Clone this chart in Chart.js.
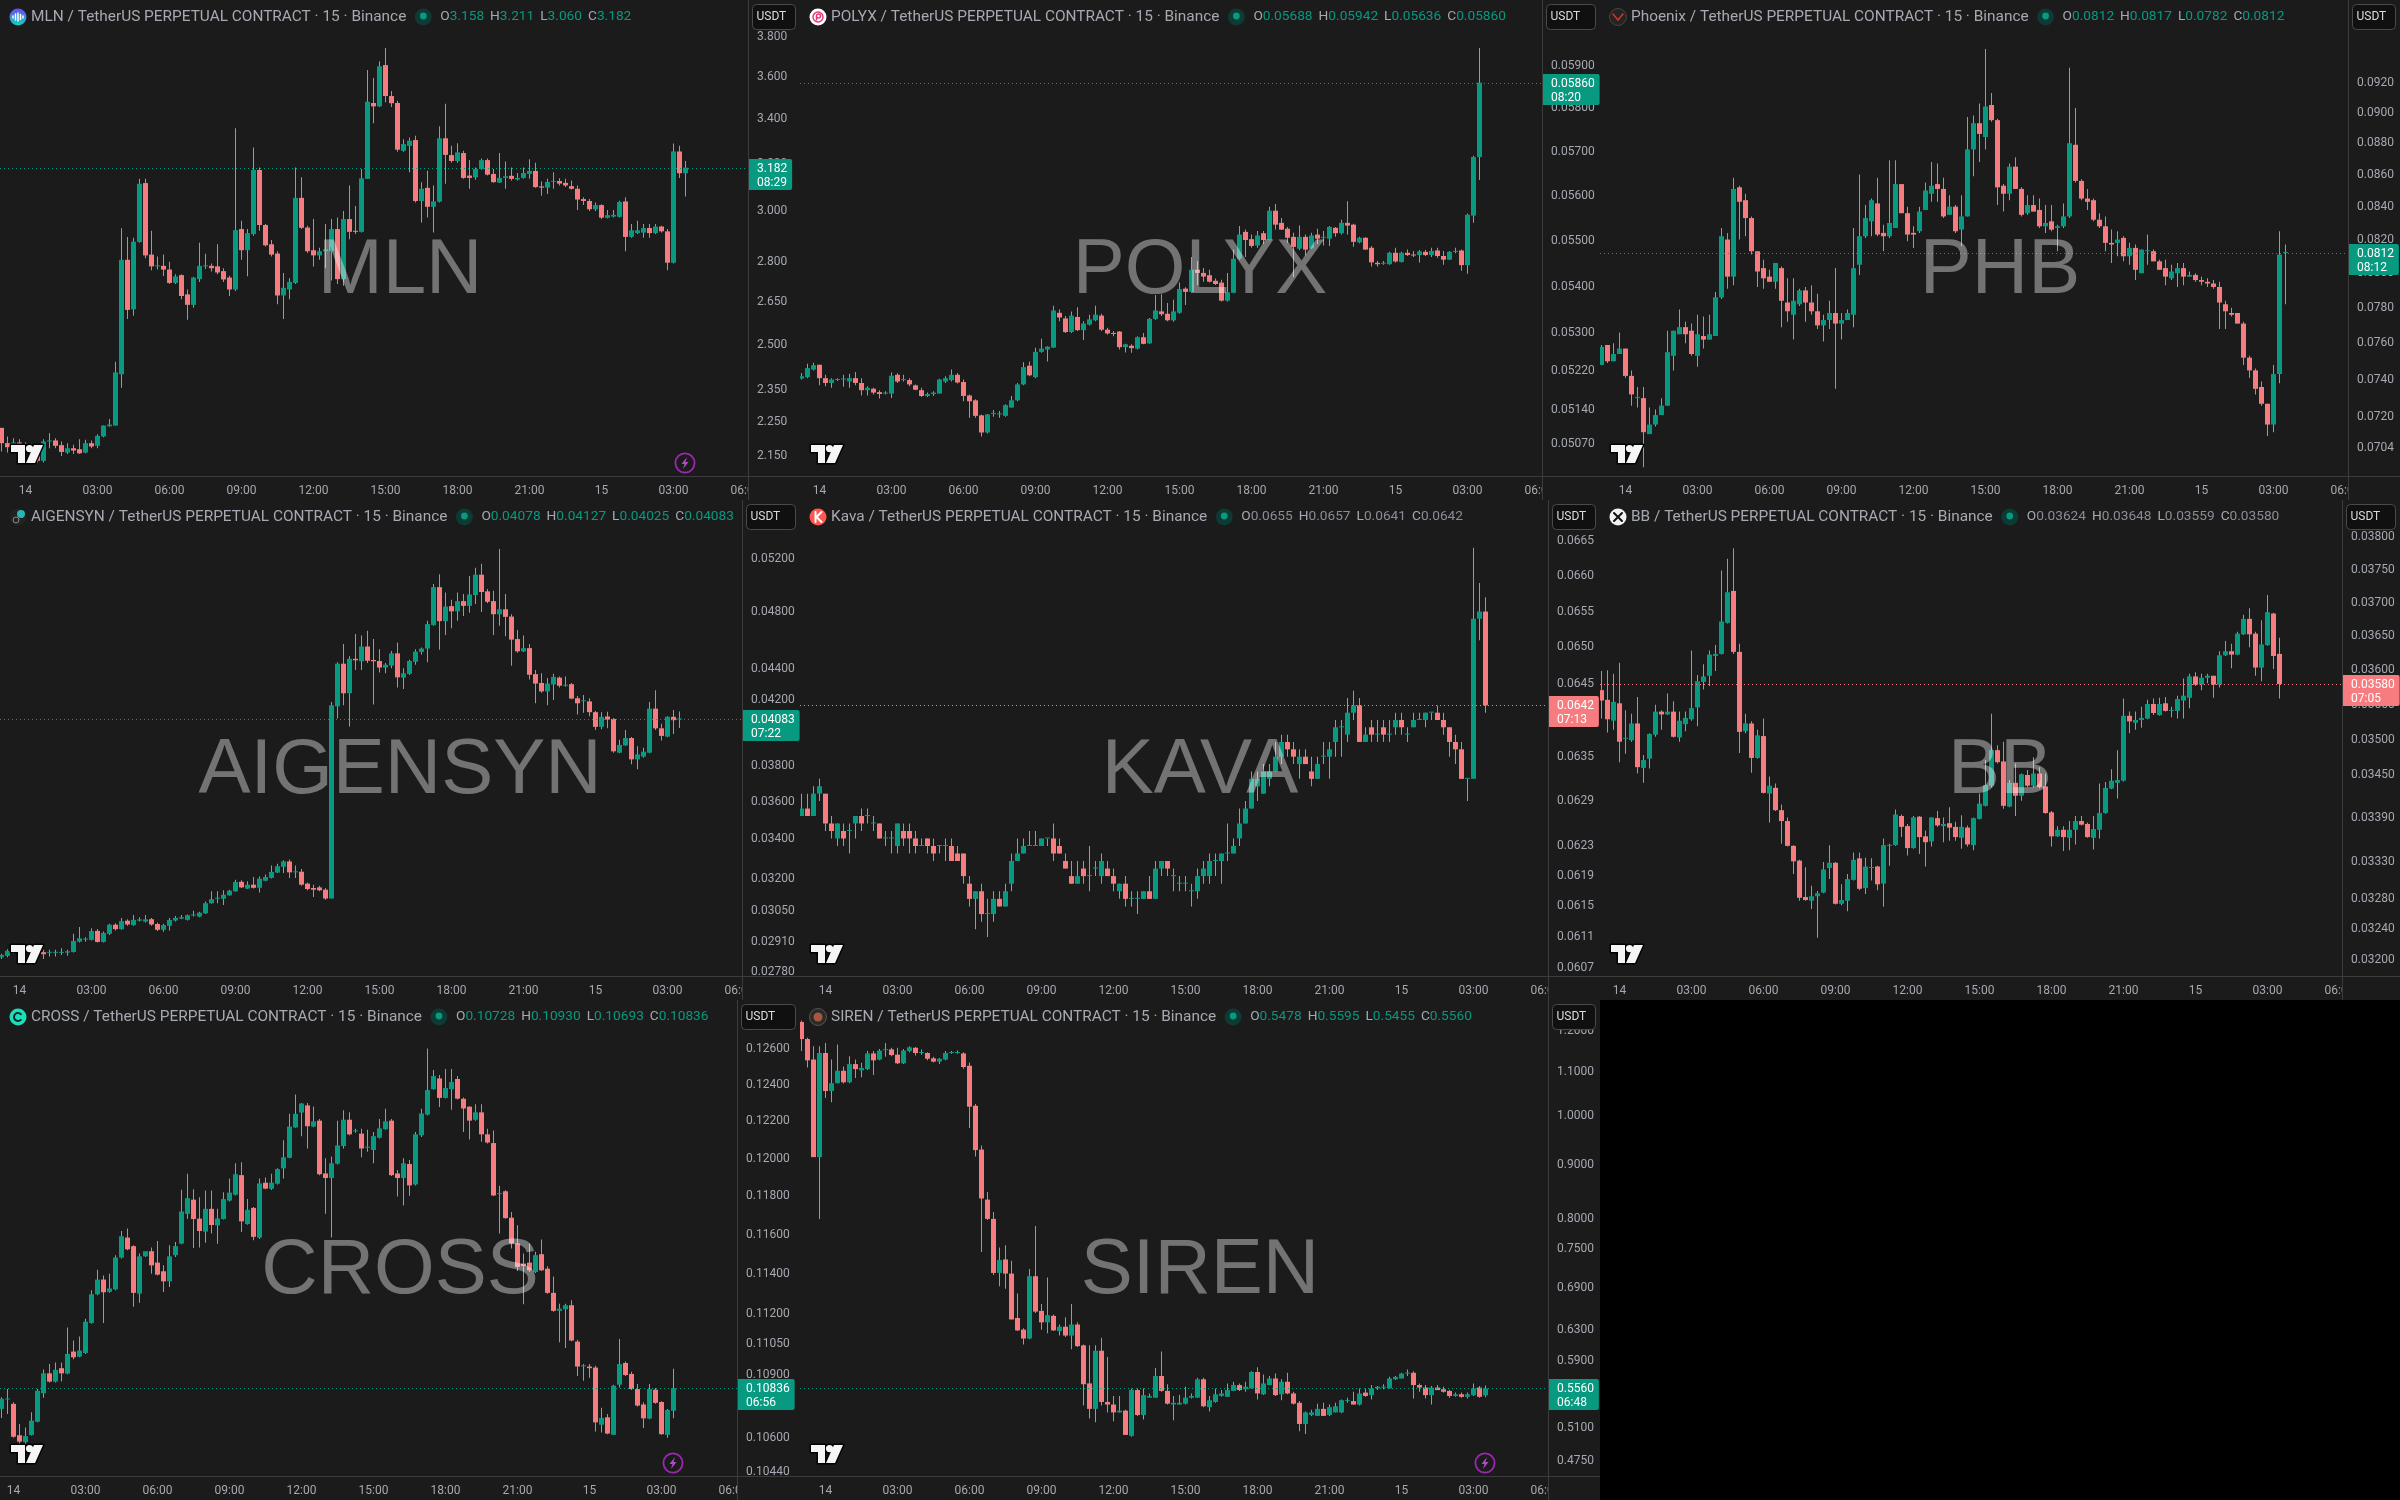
<!DOCTYPE html>
<html><head><meta charset="utf-8">
<style>html,body{margin:0;background:#000;width:2400px;height:1500px;overflow:hidden}canvas{position:absolute;display:block}</style>
<script src="https://cdn.jsdelivr.net/npm/chart.js@4"></script>
</head><body>
<script>
// every row is [open, high, low, close], one 15-minute candle
const timeLabels=['14','03:00','06:00','09:00','12:00','15:00','18:00','21:00','15','03:00','06:00'];
const mlnBars=[[2.233,2.233,2.162,2.187],[2.187,2.207,2.159,2.175],[2.175,2.202,2.172,2.189],[2.189,2.199,2.167,2.18],[2.18,2.19,2.165,2.172],[2.172,2.185,2.16,2.165],[2.165,2.17,2.13,2.135],[2.135,2.199,2.13,2.192],[2.192,2.217,2.172,2.195],[2.195,2.202,2.172,2.179],[2.181,2.192,2.149,2.161],[2.159,2.187,2.155,2.172],[2.172,2.182,2.155,2.165],[2.169,2.199,2.155,2.157],[2.159,2.197,2.157,2.187],[2.187,2.195,2.172,2.177],[2.179,2.214,2.172,2.209],[2.207,2.24,2.205,2.24],[2.238,2.26,2.236,2.243],[2.24,2.443,2.24,2.408],[2.402,2.93,2.358,2.807],[2.807,2.896,2.59,2.622],[2.624,2.893,2.601,2.877],[2.876,3.134,2.873,3.113],[3.116,3.134,2.813,2.824],[2.827,2.92,2.767,2.782],[2.782,2.82,2.77,2.784],[2.784,2.827,2.746,2.77],[2.77,2.8,2.716,2.72],[2.72,2.752,2.716,2.744],[2.749,2.752,2.66,2.672],[2.678,2.696,2.587,2.64],[2.64,2.743,2.63,2.74],[2.734,2.873,2.723,2.784],[2.782,2.83,2.772,2.784],[2.784,2.793,2.763,2.775],[2.782,2.867,2.752,2.759],[2.764,2.775,2.723,2.733],[2.74,2.747,2.672,2.696],[2.696,3.357,2.69,2.923],[2.927,2.96,2.807,2.844],[2.844,2.927,2.745,2.911],[2.907,3.271,2.9,3.172],[3.172,3.183,2.92,2.943],[2.943,2.947,2.858,2.863],[2.867,2.884,2.82,2.827],[2.831,2.84,2.642,2.674],[2.674,2.757,2.59,2.702],[2.696,2.737,2.66,2.724],[2.72,3.183,2.716,3.054],[3.054,3.141,2.927,2.932],[2.933,2.94,2.833,2.84],[2.844,2.967,2.782,2.824],[2.824,2.853,2.807,2.84],[2.84,2.947,2.775,2.847],[2.84,2.967,2.729,2.927],[2.927,2.973,2.716,2.734],[2.734,3.0,2.71,2.967],[2.967,3.106,2.887,2.916],[2.92,3.02,2.907,2.916],[2.916,3.176,2.913,3.136],[3.134,3.635,3.134,3.481],[3.475,3.595,3.38,3.459],[3.459,3.678,3.456,3.653],[3.659,3.745,3.478,3.508],[3.508,3.532,3.456,3.474],[3.475,3.486,3.252,3.261],[3.256,3.308,3.252,3.286],[3.278,3.316,3.162,3.301],[3.304,3.323,3.035,3.041],[3.041,3.12,2.953,3.092],[3.096,3.169,2.973,3.017],[3.017,3.106,2.913,3.039],[3.038,3.367,3.035,3.312],[3.312,3.471,3.113,3.238],[3.237,3.278,3.204,3.211],[3.211,3.29,3.204,3.249],[3.246,3.256,3.134,3.138],[3.148,3.215,3.092,3.138],[3.141,3.183,3.13,3.176],[3.176,3.222,3.173,3.215],[3.215,3.222,3.148,3.152],[3.155,3.176,3.117,3.12],[3.118,3.246,3.116,3.138],[3.138,3.209,3.092,3.145],[3.147,3.183,3.127,3.134],[3.131,3.159,3.127,3.138],[3.138,3.183,3.134,3.159],[3.155,3.219,3.134,3.168],[3.168,3.204,3.096,3.099],[3.102,3.123,3.063,3.097],[3.097,3.134,3.07,3.121],[3.121,3.162,3.092,3.125],[3.125,3.137,3.106,3.114],[3.117,3.134,3.099,3.106],[3.103,3.127,3.089,3.092],[3.092,3.106,3.004,3.047],[3.049,3.056,3.024,3.041],[3.041,3.049,3.0,3.007],[3.007,3.035,3.0,3.024],[3.024,3.028,2.967,2.973],[2.972,3.004,2.969,2.983],[2.977,3.004,2.973,2.984],[2.976,3.042,2.973,3.037],[3.039,3.056,2.84,2.896],[2.896,2.947,2.893,2.922],[2.911,2.96,2.907,2.922],[2.913,2.947,2.893,2.931],[2.931,2.947,2.893,2.911],[2.911,2.947,2.907,2.937],[2.937,2.94,2.913,2.918],[2.918,2.927,2.767,2.796],[2.796,3.289,2.793,3.253],[3.253,3.278,3.138,3.158],[3.158,3.211,3.06,3.182]];
const polyxBars=[[0.05205,0.05217,0.05203,0.0521],[0.05208,0.05236,0.05206,0.05227],[0.05224,0.05238,0.05222,0.05233],[0.05234,0.05234,0.05191,0.05206],[0.05206,0.05213,0.05189,0.05196],[0.05196,0.05206,0.05186,0.05203],[0.05202,0.05206,0.052,0.05203],[0.05203,0.05213,0.05188,0.05205],[0.05199,0.05215,0.05186,0.05206],[0.05206,0.05219,0.05191,0.05196],[0.05196,0.05206,0.0517,0.05181],[0.05181,0.05189,0.0517,0.05186],[0.05184,0.05186,0.05172,0.05176],[0.05177,0.05181,0.05164,0.05173],[0.05174,0.05179,0.05172,0.05176],[0.05174,0.05218,0.05165,0.05211],[0.05213,0.05216,0.05196,0.05199],[0.05202,0.05213,0.05199,0.05204],[0.05202,0.05206,0.05189,0.05193],[0.05191,0.05193,0.05181,0.05182],[0.05181,0.05186,0.05167,0.05169],[0.05169,0.05176,0.05167,0.05173],[0.05173,0.05179,0.05169,0.05176],[0.05174,0.05205,0.05174,0.05203],[0.05199,0.0521,0.05196,0.05206],[0.05202,0.05224,0.05199,0.05213],[0.05213,0.05217,0.05195,0.05197],[0.05198,0.05203,0.05158,0.05169],[0.0517,0.05172,0.05124,0.05158],[0.0516,0.05162,0.05124,0.05128],[0.05129,0.05131,0.05086,0.05094],[0.05094,0.05132,0.05092,0.05131],[0.05132,0.0514,0.05126,0.05132],[0.05131,0.05138,0.05124,0.05131],[0.05128,0.05152,0.05126,0.0515],[0.05145,0.05169,0.05145,0.0516],[0.0516,0.05196,0.05158,0.05193],[0.05193,0.05239,0.05191,0.05229],[0.05232,0.05241,0.0521,0.05212],[0.05208,0.0527,0.05206,0.05261],[0.05261,0.05289,0.05259,0.05268],[0.05266,0.05273,0.05241,0.05272],[0.0527,0.05359,0.0527,0.05349],[0.05344,0.05351,0.05326,0.05334],[0.05332,0.05337,0.05301,0.05303],[0.05303,0.05347,0.05301,0.05338],[0.05335,0.05356,0.05305,0.05307],[0.05307,0.05326,0.05286,0.05321],[0.05319,0.0534,0.05317,0.0533],[0.05328,0.05359,0.05326,0.0534],[0.05338,0.05342,0.05305,0.05308],[0.05308,0.05312,0.05298,0.053],[0.05301,0.05305,0.05294,0.05299],[0.05304,0.05305,0.05266,0.05271],[0.05271,0.05278,0.0526,0.05277],[0.05274,0.05277,0.05259,0.05269],[0.05268,0.05294,0.05266,0.05292],[0.05292,0.05301,0.05277,0.05278],[0.05279,0.05333,0.05278,0.05331],[0.05331,0.05382,0.05329,0.05349],[0.05347,0.05384,0.05337,0.05341],[0.05342,0.05365,0.05326,0.05328],[0.05328,0.05372,0.05325,0.05347],[0.05344,0.05409,0.05342,0.05395],[0.05396,0.05399,0.05361,0.05389],[0.05389,0.05465,0.05387,0.05437],[0.05437,0.05456,0.05404,0.0543],[0.0543,0.05441,0.05411,0.05422],[0.05425,0.05437,0.05409,0.05411],[0.05413,0.05418,0.05404,0.05406],[0.05409,0.05415,0.05368,0.0537],[0.0537,0.0543,0.05368,0.05388],[0.05387,0.05481,0.05386,0.05461],[0.05461,0.05533,0.05459,0.05514],[0.0552,0.05525,0.05465,0.05502],[0.05504,0.05514,0.05485,0.05489],[0.0549,0.05522,0.05485,0.05512],[0.05517,0.05522,0.05493,0.05502],[0.05502,0.05576,0.05501,0.05567],[0.05567,0.05582,0.05525,0.05536],[0.0554,0.05551,0.05524,0.05525],[0.05527,0.05531,0.05496,0.05507],[0.05509,0.05518,0.05421,0.05487],[0.05483,0.05534,0.0548,0.05509],[0.05509,0.05514,0.05468,0.05481],[0.05484,0.05518,0.05483,0.05512],[0.05514,0.05527,0.05493,0.05505],[0.05507,0.05522,0.0549,0.05509],[0.05505,0.05533,0.05489,0.05531],[0.05529,0.05531,0.05509,0.05517],[0.05517,0.05547,0.05514,0.0554],[0.0554,0.05588,0.05514,0.05534],[0.05536,0.05538,0.05487,0.05498],[0.05497,0.05509,0.05495,0.05507],[0.05507,0.05508,0.05481,0.05481],[0.05485,0.05489,0.05444,0.05453],[0.05452,0.05456,0.05444,0.05449],[0.0545,0.05456,0.05448,0.05452],[0.05449,0.05476,0.05448,0.05474],[0.05474,0.05485,0.05453,0.05455],[0.05454,0.05476,0.05453,0.05474],[0.05474,0.05481,0.05467,0.05469],[0.0547,0.05478,0.05465,0.05468],[0.05469,0.0548,0.05453,0.05477],[0.05476,0.0548,0.05467,0.05469],[0.05469,0.05485,0.05465,0.05478],[0.05479,0.05485,0.05463,0.05467],[0.05467,0.05478,0.05448,0.05459],[0.05459,0.05478,0.05458,0.05476],[0.05476,0.05485,0.05473,0.05478],[0.05479,0.05481,0.05435,0.05447],[0.05447,0.05561,0.05428,0.05558],[0.05556,0.05691,0.0554,0.05688],[0.05688,0.05942,0.05636,0.0586]];
const phbBars=[[0.0748,0.0759,0.0748,0.0758],[0.0759,0.0759,0.0749,0.075],[0.075,0.076,0.075,0.0754],[0.0754,0.0766,0.0754,0.0757],[0.0757,0.0757,0.0741,0.0742],[0.0742,0.0745,0.0726,0.0732],[0.073,0.0736,0.0725,0.073],[0.073,0.0736,0.0694,0.0712],[0.0711,0.0725,0.0711,0.0716],[0.0716,0.0724,0.0715,0.0721],[0.0721,0.073,0.0721,0.0726],[0.0726,0.0767,0.0726,0.0755],[0.0753,0.0767,0.0745,0.0767],[0.0765,0.0779,0.0765,0.0769],[0.0769,0.0772,0.076,0.0765],[0.0767,0.0771,0.0753,0.0754],[0.0753,0.0776,0.0747,0.0765],[0.0764,0.0775,0.0757,0.0762],[0.0762,0.0776,0.0762,0.0765],[0.0764,0.0789,0.0764,0.0786],[0.0786,0.0827,0.0785,0.0822],[0.082,0.0824,0.0791,0.0798],[0.0798,0.0858,0.0793,0.0851],[0.0852,0.0853,0.082,0.0843],[0.0844,0.0848,0.0822,0.0833],[0.0833,0.0834,0.0811,0.0813],[0.0813,0.0813,0.0792,0.0801],[0.0803,0.0808,0.0791,0.0797],[0.0798,0.0802,0.0795,0.0795],[0.0795,0.0806,0.0791,0.0806],[0.0803,0.0804,0.0769,0.0784],[0.0783,0.0797,0.0772,0.0778],[0.0776,0.0797,0.0762,0.0784],[0.0782,0.0791,0.0781,0.079],[0.079,0.0792,0.0772,0.0783],[0.0783,0.0793,0.0776,0.0778],[0.0778,0.0788,0.0768,0.077],[0.077,0.0776,0.0761,0.0773],[0.0773,0.0784,0.0768,0.0777],[0.0777,0.0803,0.0735,0.0771],[0.0771,0.0777,0.0762,0.0773],[0.0773,0.0779,0.0773,0.0777],[0.0776,0.0827,0.0769,0.0803],[0.0805,0.086,0.0799,0.0822],[0.0822,0.0841,0.0821,0.0833],[0.0831,0.0845,0.0822,0.0844],[0.0842,0.0858,0.0822,0.0823],[0.0824,0.0829,0.0813,0.0822],[0.0822,0.0869,0.0821,0.083],[0.0827,0.0869,0.0827,0.0854],[0.0854,0.0854,0.0836,0.0836],[0.0836,0.084,0.0819,0.0823],[0.0824,0.0828,0.0815,0.0823],[0.0825,0.084,0.0824,0.0837],[0.0838,0.0855,0.0838,0.085],[0.0848,0.0868,0.0843,0.0853],[0.0854,0.0867,0.0843,0.0851],[0.0851,0.0858,0.0833,0.0834],[0.0835,0.0847,0.0835,0.084],[0.084,0.0841,0.0824,0.0825],[0.0826,0.0847,0.0816,0.0834],[0.0834,0.0897,0.0834,0.0876],[0.0876,0.0898,0.0859,0.0893],[0.0893,0.0906,0.0868,0.0886],[0.0884,0.0943,0.0876,0.0904],[0.0905,0.0913,0.0894,0.0895],[0.0895,0.0896,0.0841,0.0852],[0.0853,0.0854,0.0837,0.0848],[0.0848,0.0867,0.0844,0.0865],[0.0865,0.0871,0.0851,0.0851],[0.0851,0.0852,0.0834,0.0835],[0.0836,0.0847,0.0835,0.0841],[0.0841,0.0847,0.0837,0.0837],[0.0838,0.0845,0.0827,0.0828],[0.0828,0.0841,0.0824,0.083],[0.0831,0.0841,0.0825,0.0826],[0.0827,0.0829,0.0813,0.0828],[0.0828,0.0842,0.0827,0.0834],[0.0834,0.093,0.0833,0.088],[0.0879,0.0903,0.0855,0.0856],[0.0856,0.0857,0.0844,0.0845],[0.0845,0.0851,0.0838,0.0843],[0.0844,0.0845,0.0831,0.0832],[0.0832,0.0836,0.0827,0.0828],[0.0828,0.0834,0.0813,0.0818],[0.0818,0.0826,0.0806,0.0817],[0.0818,0.0825,0.081,0.082],[0.0821,0.0822,0.0807,0.081],[0.081,0.0818,0.0805,0.0815],[0.0815,0.0817,0.0796,0.0802],[0.08,0.0814,0.08,0.0814],[0.0813,0.0823,0.0805,0.0813],[0.0813,0.0814,0.0807,0.0807],[0.0807,0.0808,0.0802,0.0802],[0.0803,0.0808,0.0793,0.0798],[0.0797,0.0805,0.0796,0.0801],[0.08,0.0806,0.0792,0.0803],[0.0803,0.0806,0.0793,0.0798],[0.0798,0.0801,0.0798,0.0799],[0.0799,0.08,0.0795,0.0796],[0.0796,0.0798,0.0793,0.0795],[0.0795,0.0797,0.0792,0.0794],[0.0794,0.0796,0.0791,0.0792],[0.0792,0.0795,0.0768,0.0783],[0.0782,0.0784,0.0768,0.0778],[0.0777,0.078,0.0775,0.0776],[0.0777,0.0777,0.0771,0.0771],[0.0771,0.0772,0.0748,0.0752],[0.0752,0.0753,0.0741,0.0745],[0.0745,0.0746,0.0732,0.0735],[0.0736,0.0739,0.0726,0.0727],[0.0727,0.0727,0.071,0.0716],[0.0716,0.0748,0.0712,0.0743],[0.0743,0.0825,0.0738,0.0811],[0.0812,0.0817,0.0782,0.0812]];
const aigensynBars=[[0.02842,0.02857,0.02834,0.02852],[0.02848,0.02877,0.02842,0.0287],[0.02862,0.02881,0.02857,0.02874],[0.02874,0.02891,0.02852,0.02862],[0.02871,0.02896,0.02852,0.02881],[0.02881,0.02896,0.02845,0.02867],[0.02871,0.02881,0.02831,0.02857],[0.02864,0.02874,0.02834,0.02855],[0.02861,0.02874,0.02845,0.02861],[0.02861,0.02874,0.02845,0.02862],[0.02861,0.02881,0.02852,0.02865],[0.02862,0.02874,0.02848,0.02868],[0.02865,0.02945,0.02862,0.02913],[0.0291,0.02975,0.02906,0.02925],[0.02919,0.0293,0.0291,0.02922],[0.02918,0.0297,0.02915,0.02957],[0.02958,0.02966,0.02906,0.02909],[0.02909,0.02955,0.02906,0.02949],[0.02945,0.0299,0.0294,0.02986],[0.02986,0.02993,0.0296,0.02966],[0.02966,0.03016,0.02963,0.03002],[0.03004,0.03011,0.02981,0.02987],[0.02984,0.0303,0.02981,0.03008],[0.03004,0.0302,0.03,0.0301],[0.03,0.0303,0.02996,0.0301],[0.03011,0.03016,0.02981,0.02987],[0.02989,0.02996,0.02958,0.02963],[0.02963,0.0299,0.02954,0.02984],[0.02981,0.03016,0.0296,0.03008],[0.03005,0.03026,0.03,0.03017],[0.03014,0.0303,0.03011,0.0302],[0.03008,0.03033,0.03005,0.03029],[0.03028,0.0305,0.03023,0.03032],[0.03023,0.03045,0.0302,0.03041],[0.03038,0.03093,0.03035,0.03085],[0.03085,0.03141,0.03082,0.03104],[0.03106,0.03141,0.03085,0.0311],[0.03106,0.03146,0.03077,0.03125],[0.03122,0.03149,0.03121,0.03144],[0.03141,0.03197,0.03139,0.03186],[0.03187,0.03194,0.03157,0.0316],[0.03154,0.03189,0.03152,0.03173],[0.03173,0.0321,0.03155,0.03158],[0.03158,0.03213,0.03136,0.03202],[0.03192,0.03222,0.03189,0.0321],[0.03206,0.03267,0.03203,0.03235],[0.03232,0.03275,0.0323,0.03263],[0.0326,0.03293,0.0323,0.03287],[0.03287,0.03297,0.03205,0.03233],[0.03233,0.03267,0.03205,0.03238],[0.03236,0.0325,0.03168,0.03173],[0.03178,0.03184,0.03146,0.03152],[0.03157,0.03173,0.03114,0.03149],[0.0316,0.03168,0.03141,0.03146],[0.03149,0.03157,0.03101,0.03107],[0.03107,0.04187,0.03107,0.04166],[0.0416,0.04447,0.04083,0.04438],[0.04438,0.04572,0.04166,0.04243],[0.04243,0.04489,0.04034,0.04471],[0.04471,0.04643,0.04396,0.04461],[0.04454,0.04632,0.04396,0.04555],[0.04555,0.04666,0.04442,0.04458],[0.04463,0.04607,0.04172,0.04454],[0.04456,0.04536,0.04379,0.04412],[0.04412,0.04442,0.04374,0.04431],[0.04425,0.04525,0.04407,0.04508],[0.04508,0.04583,0.04281,0.04347],[0.04345,0.04407,0.04271,0.04374],[0.0437,0.04465,0.04363,0.04456],[0.04451,0.04536,0.0443,0.0452],[0.04518,0.04548,0.04501,0.04541],[0.04541,0.04737,0.04447,0.04713],[0.04706,0.05008,0.04701,0.04985],[0.04985,0.05083,0.04532,0.04734],[0.04734,0.04945,0.04636,0.0484],[0.04843,0.0489,0.04683,0.04805],[0.04805,0.04945,0.04737,0.0488],[0.0488,0.04933,0.04772,0.04845],[0.04845,0.0507,0.04795,0.0493],[0.04925,0.05133,0.04858,0.0508],[0.0508,0.05165,0.048,0.04948],[0.04953,0.0497,0.04865,0.04875],[0.0488,0.04958,0.04636,0.04784],[0.04784,0.05283,0.04701,0.0482],[0.0482,0.04933,0.04626,0.04765],[0.04767,0.04784,0.04424,0.04603],[0.04607,0.04671,0.04513,0.04522],[0.04522,0.04632,0.04517,0.04544],[0.04544,0.04572,0.04332,0.04364],[0.04368,0.04396,0.04179,0.04306],[0.0431,0.04374,0.04247,0.04255],[0.04255,0.04342,0.04166,0.04306],[0.043,0.0437,0.042,0.04349],[0.04345,0.04353,0.04281,0.04292],[0.04292,0.04353,0.04285,0.04298],[0.04302,0.04309,0.04204,0.04209],[0.04211,0.04226,0.04108,0.04179],[0.04192,0.04232,0.04119,0.04194],[0.04191,0.04211,0.04098,0.04123],[0.04123,0.0413,0.04013,0.04032],[0.04032,0.04123,0.04017,0.04094],[0.04096,0.04125,0.04023,0.04077],[0.04081,0.04087,0.03877,0.03885],[0.03877,0.03954,0.03873,0.03923],[0.0392,0.04013,0.03916,0.03964],[0.03964,0.0397,0.0381,0.03838],[0.03838,0.03915,0.03781,0.03867],[0.03854,0.03906,0.03848,0.03883],[0.03877,0.04187,0.03873,0.04145],[0.04145,0.04262,0.04013,0.04023],[0.04023,0.04051,0.0395,0.03977],[0.03973,0.04098,0.03969,0.04094],[0.04094,0.04136,0.03988,0.04073],[0.04078,0.04127,0.04025,0.04083]];
const kavaBars=[[0.0627,0.063,0.0627,0.0628],[0.0628,0.063,0.0627,0.0627],[0.0627,0.0631,0.0627,0.063],[0.063,0.0632,0.0629,0.0631],[0.063,0.063,0.0625,0.0626],[0.0626,0.0627,0.0624,0.0625],[0.0624,0.0626,0.0623,0.0626],[0.0625,0.0626,0.0623,0.0624],[0.0625,0.0626,0.0622,0.0625],[0.0626,0.0627,0.0624,0.0627],[0.0627,0.0628,0.0625,0.0626],[0.0627,0.0628,0.0626,0.0627],[0.0626,0.0627,0.0625,0.0626],[0.0626,0.0626,0.0624,0.0624],[0.0624,0.0625,0.0623,0.0624],[0.0624,0.0625,0.0622,0.0624],[0.0623,0.0626,0.0622,0.0626],[0.0625,0.0626,0.0623,0.0624],[0.0625,0.0626,0.0622,0.0624],[0.0624,0.0625,0.0622,0.0623],[0.0623,0.0624,0.0623,0.0623],[0.0624,0.0624,0.0622,0.0623],[0.0623,0.0624,0.0621,0.0622],[0.0623,0.0623,0.0622,0.0623],[0.0623,0.0624,0.0621,0.0623],[0.0623,0.0624,0.0621,0.0621],[0.0622,0.0623,0.0621,0.0621],[0.0622,0.0622,0.0618,0.0619],[0.0618,0.0619,0.0615,0.0616],[0.0616,0.0617,0.0612,0.0617],[0.0617,0.0618,0.0613,0.0614],[0.0614,0.0616,0.0611,0.0614],[0.0614,0.0617,0.0613,0.0616],[0.0616,0.0617,0.0615,0.0615],[0.0615,0.0618,0.0615,0.0617],[0.0618,0.0622,0.0617,0.0621],[0.0621,0.0624,0.0621,0.0622],[0.0622,0.0624,0.0622,0.0623],[0.0623,0.0625,0.0623,0.0623],[0.0623,0.0625,0.0623,0.0623],[0.0623,0.0624,0.0623,0.0624],[0.0624,0.0624,0.0623,0.0624],[0.0624,0.0626,0.0621,0.0622],[0.0623,0.0624,0.0622,0.0622],[0.0621,0.0622,0.062,0.062],[0.0619,0.0621,0.0618,0.0618],[0.0618,0.0621,0.0618,0.0619],[0.062,0.0621,0.0618,0.0619],[0.0619,0.0623,0.0617,0.0619],[0.062,0.0621,0.0619,0.062],[0.0619,0.0622,0.0618,0.0621],[0.062,0.0621,0.0619,0.0619],[0.0619,0.062,0.0617,0.0618],[0.0617,0.0618,0.0616,0.0618],[0.0618,0.0619,0.0615,0.0616],[0.0616,0.0617,0.0615,0.0616],[0.0616,0.0617,0.0614,0.0616],[0.0616,0.0617,0.0616,0.0617],[0.0617,0.0619,0.0616,0.0616],[0.0616,0.0621,0.0616,0.062],[0.062,0.0621,0.0619,0.0621],[0.0621,0.0621,0.0619,0.062],[0.0619,0.062,0.0617,0.0619],[0.0618,0.0619,0.0617,0.0618],[0.0618,0.0619,0.0617,0.0618],[0.0617,0.0618,0.0615,0.0617],[0.0617,0.062,0.0616,0.0619],[0.0619,0.0621,0.0618,0.062],[0.0619,0.0622,0.0618,0.0621],[0.0621,0.0622,0.0619,0.0621],[0.0621,0.0622,0.0618,0.0622],[0.0622,0.0626,0.0621,0.0622],[0.0622,0.0624,0.0622,0.0623],[0.0624,0.0628,0.0623,0.0626],[0.0626,0.0629,0.0626,0.0628],[0.0628,0.0633,0.0628,0.0632],[0.0631,0.0633,0.0629,0.0632],[0.063,0.0634,0.063,0.0633],[0.0632,0.0634,0.0631,0.0633],[0.0633,0.0637,0.0633,0.0635],[0.0635,0.0638,0.0634,0.0637],[0.0637,0.0638,0.0635,0.0636],[0.0636,0.0637,0.0634,0.0635],[0.0634,0.0636,0.0632,0.0635],[0.0635,0.0636,0.0634,0.0634],[0.0633,0.0635,0.0631,0.0632],[0.0632,0.0635,0.0632,0.0634],[0.0635,0.0637,0.0634,0.0635],[0.0635,0.0637,0.0632,0.0636],[0.0637,0.064,0.0635,0.0639],[0.0639,0.064,0.0635,0.0639],[0.0638,0.0643,0.0637,0.0641],[0.0641,0.0644,0.064,0.0642],[0.0642,0.0643,0.0637,0.0637],[0.0637,0.0639,0.0637,0.0638],[0.0639,0.064,0.0637,0.0638],[0.0638,0.064,0.0637,0.0638],[0.0639,0.064,0.0637,0.0638],[0.0638,0.064,0.0637,0.0638],[0.0639,0.0641,0.0638,0.064],[0.064,0.0641,0.0638,0.0639],[0.0638,0.0639,0.0637,0.0638],[0.0639,0.0641,0.0639,0.064],[0.064,0.0641,0.064,0.064],[0.064,0.0641,0.0639,0.0641],[0.0641,0.0641,0.064,0.0641],[0.0641,0.0642,0.064,0.064],[0.064,0.0641,0.0638,0.0639],[0.0639,0.0639,0.0635,0.0637],[0.0637,0.0638,0.0634,0.0636],[0.0636,0.0637,0.0632,0.0632],[0.0632,0.0632,0.0629,0.0632],[0.0632,0.0664,0.0632,0.0654],[0.0654,0.0659,0.0651,0.0655],[0.0655,0.0657,0.0641,0.0642]];
const bbBars=[[0.03571,0.03599,0.0353,0.03556],[0.03557,0.036,0.0351,0.03529],[0.03527,0.03595,0.03514,0.03554],[0.03552,0.03611,0.03468,0.03497],[0.03501,0.03542,0.0348,0.03502],[0.03499,0.03537,0.03497,0.03523],[0.03523,0.03561,0.03452,0.03461],[0.0346,0.03478,0.03439,0.03471],[0.03473,0.03509,0.03459,0.03508],[0.03507,0.0355,0.03504,0.0354],[0.0354,0.03542,0.03514,0.03536],[0.03536,0.03566,0.03535,0.0354],[0.0354,0.03555,0.03503,0.03504],[0.03503,0.0354,0.03497,0.03527],[0.03522,0.0354,0.03512,0.03531],[0.03529,0.03629,0.03527,0.03545],[0.03546,0.03593,0.03519,0.03584],[0.03583,0.03609,0.03572,0.03591],[0.03592,0.03629,0.03577,0.03623],[0.03621,0.03637,0.03599,0.03624],[0.03624,0.03749,0.03623,0.03672],[0.0367,0.03767,0.03669,0.03716],[0.03718,0.03783,0.03624,0.03627],[0.03627,0.03639,0.03481,0.03511],[0.03512,0.03537,0.03509,0.03523],[0.03523,0.03526,0.03453,0.03474],[0.03474,0.03514,0.03473,0.03506],[0.03505,0.0353,0.03424,0.03425],[0.03424,0.03448,0.03384,0.03435],[0.03432,0.03438,0.034,0.03401],[0.03401,0.03409,0.03355,0.03386],[0.03386,0.03391,0.03351,0.03352],[0.03352,0.03353,0.03314,0.03331],[0.03332,0.03333,0.03278,0.03282],[0.03283,0.03323,0.03278,0.03279],[0.03278,0.03298,0.03267,0.03284],[0.03284,0.03291,0.03229,0.03288],[0.03289,0.0333,0.03288,0.0332],[0.03322,0.03353,0.03307,0.03329],[0.03329,0.0333,0.03273,0.03274],[0.03274,0.033,0.03272,0.03279],[0.03278,0.03314,0.03264,0.03307],[0.03306,0.03343,0.03305,0.03333],[0.03335,0.03343,0.03292,0.03294],[0.03295,0.03336,0.03287,0.03324],[0.03322,0.03335,0.03305,0.03323],[0.03324,0.03325,0.03292,0.033],[0.03301,0.03362,0.0327,0.03353],[0.03352,0.03355,0.03325,0.03353],[0.03353,0.03402,0.03352,0.03395],[0.03393,0.03395,0.03364,0.03378],[0.03379,0.03382,0.03339,0.03349],[0.03349,0.03393,0.03348,0.03391],[0.03392,0.03393,0.03341,0.03364],[0.03365,0.03373,0.03324,0.03357],[0.03358,0.03391,0.03351,0.03391],[0.0339,0.034,0.03378,0.0338],[0.03379,0.03391,0.03357,0.03382],[0.03383,0.03405,0.03359,0.03377],[0.03378,0.03385,0.03359,0.03364],[0.03363,0.03394,0.03348,0.03378],[0.03377,0.0338,0.03351,0.03354],[0.03353,0.03391,0.03346,0.0339],[0.03389,0.03424,0.03388,0.0341],[0.03407,0.03471,0.03406,0.03436],[0.03435,0.03537,0.03433,0.03485],[0.03485,0.03492,0.03466,0.03468],[0.03469,0.03497,0.03403,0.03407],[0.03406,0.03443,0.03405,0.03439],[0.03439,0.03466,0.03393,0.03421],[0.03421,0.03452,0.03414,0.03451],[0.0345,0.03457,0.03433,0.03435],[0.03435,0.03475,0.03433,0.03452],[0.03452,0.03461,0.03431,0.03433],[0.03434,0.03452,0.03396,0.03397],[0.03398,0.034,0.03351,0.03365],[0.03365,0.03379,0.03364,0.03374],[0.03374,0.03379,0.03345,0.03364],[0.03363,0.03386,0.03346,0.03374],[0.03374,0.03393,0.03354,0.03386],[0.03386,0.03393,0.0338,0.03381],[0.03382,0.03384,0.03363,0.03364],[0.03363,0.03393,0.03347,0.03375],[0.03374,0.03438,0.03362,0.03397],[0.03397,0.0344,0.03396,0.03432],[0.03431,0.03458,0.0343,0.03442],[0.03439,0.03485,0.03417,0.03443],[0.03442,0.03559,0.03441,0.03534],[0.03534,0.0354,0.03509,0.03526],[0.03524,0.0354,0.03514,0.03528],[0.03528,0.03547,0.03517,0.03531],[0.0353,0.03557,0.03529,0.03551],[0.03551,0.03559,0.03535,0.03538],[0.03535,0.0356,0.03534,0.03551],[0.03552,0.03561,0.0354,0.03541],[0.03541,0.03547,0.03532,0.03542],[0.03541,0.03563,0.0353,0.03558],[0.03556,0.03588,0.0353,0.03563],[0.0356,0.03595,0.03545,0.03591],[0.03591,0.03597,0.03577,0.03579],[0.03579,0.03595,0.03571,0.03589],[0.03589,0.03595,0.03581,0.03592],[0.03592,0.03592,0.0356,0.03579],[0.03579,0.03628,0.03575,0.03622],[0.03622,0.03643,0.03621,0.03628],[0.03628,0.03639,0.03603,0.03623],[0.03623,0.03657,0.03622,0.03654],[0.03653,0.03682,0.03652,0.03676],[0.03676,0.03692,0.03634,0.03653],[0.03654,0.03657,0.03592,0.03604],[0.03604,0.03674,0.03584,0.03638],[0.03637,0.03712,0.03636,0.03686],[0.03684,0.03685,0.03602,0.03621],[0.03624,0.03648,0.03559,0.0358]];
const crossBars=[[0.10737,0.10793,0.10694,0.10785],[0.10782,0.10832,0.10713,0.10785],[0.10761,0.10769,0.106,0.10605],[0.10612,0.10665,0.10562,0.10582],[0.1058,0.10649,0.1057,0.10608],[0.10613,0.10721,0.10611,0.10681],[0.10676,0.10832,0.10673,0.10824],[0.10812,0.10926,0.1079,0.10908],[0.10908,0.10953,0.10864,0.10868],[0.10868,0.10961,0.10864,0.10925],[0.10933,0.10961,0.10868,0.10908],[0.10907,0.11132,0.10903,0.11002],[0.11014,0.11068,0.10977,0.10986],[0.10989,0.11088,0.10986,0.11019],[0.11007,0.11176,0.11002,0.11161],[0.11155,0.11318,0.11151,0.11298],[0.11298,0.11422,0.11293,0.11372],[0.11372,0.11393,0.11155,0.11308],[0.1131,0.11402,0.11305,0.11327],[0.11323,0.11496,0.11318,0.11484],[0.11484,0.1162,0.11479,0.11593],[0.11586,0.11633,0.11521,0.11526],[0.11542,0.11547,0.11235,0.11305],[0.11301,0.11504,0.11255,0.1149],[0.1149,0.11513,0.11487,0.11516],[0.11516,0.11535,0.11402,0.11444],[0.11458,0.11569,0.11393,0.11397],[0.11414,0.11444,0.1131,0.11363],[0.11363,0.11547,0.11335,0.1149],[0.11496,0.11564,0.11487,0.11542],[0.11555,0.11835,0.11552,0.11721],[0.11709,0.1192,0.11684,0.11791],[0.11783,0.11838,0.11533,0.11682],[0.11684,0.11795,0.11535,0.1162],[0.11617,0.11831,0.11559,0.11735],[0.11735,0.11831,0.11607,0.11651],[0.11649,0.11735,0.11555,0.11685],[0.11682,0.11822,0.11679,0.11786],[0.11778,0.11894,0.11774,0.1182],[0.11809,0.11975,0.11805,0.11917],[0.11912,0.1198,0.11615,0.1167],[0.11656,0.11786,0.11653,0.1173],[0.1174,0.11744,0.11573,0.1159],[0.11586,0.11894,0.11579,0.11868],[0.11872,0.11899,0.11838,0.11841],[0.1184,0.1192,0.11834,0.11872],[0.11867,0.11948,0.11863,0.11944],[0.11948,0.12098,0.11894,0.12007],[0.12004,0.12241,0.12002,0.12172],[0.12167,0.12347,0.12165,0.12241],[0.12248,0.123,0.1212,0.12297],[0.12287,0.123,0.12054,0.12174],[0.12172,0.12281,0.12168,0.122],[0.12204,0.12213,0.11912,0.11917],[0.11921,0.12002,0.11709,0.11897],[0.11897,0.12011,0.11586,0.11975],[0.11973,0.12204,0.11969,0.1207],[0.12067,0.1226,0.12054,0.12209],[0.12209,0.1225,0.12125,0.1213],[0.12146,0.1216,0.12139,0.12146],[0.12134,0.1216,0.12007,0.12054],[0.12058,0.12155,0.12037,0.12062],[0.12046,0.12142,0.11975,0.1212],[0.12112,0.12213,0.12107,0.12162],[0.12158,0.12269,0.12155,0.122],[0.12204,0.12213,0.11908,0.11912],[0.11921,0.11939,0.118,0.11897],[0.11897,0.12002,0.11752,0.11975],[0.11971,0.11993,0.11803,0.11858],[0.11863,0.12142,0.11858,0.1213],[0.12125,0.12269,0.12116,0.12243],[0.12237,0.12602,0.12232,0.12371],[0.12376,0.12482,0.12373,0.12448],[0.12435,0.12454,0.12278,0.12328],[0.12328,0.12487,0.12324,0.12382],[0.12376,0.12487,0.12263,0.12415],[0.12432,0.12448,0.12319,0.12324],[0.12323,0.1233,0.12142,0.1227],[0.1228,0.12282,0.12102,0.12204],[0.12209,0.12293,0.12204,0.12249],[0.12249,0.12293,0.1209,0.1213],[0.1213,0.1216,0.12081,0.12086],[0.12083,0.12151,0.11802,0.11805],[0.11812,0.11856,0.11607,0.11817],[0.11827,0.11832,0.11684,0.11687],[0.11689,0.11718,0.1153,0.11556],[0.11556,0.1165,0.11415,0.11436],[0.11453,0.11504,0.11248,0.11441],[0.11458,0.11556,0.1141,0.11419],[0.1141,0.11513,0.11405,0.11496],[0.11501,0.11576,0.11415,0.11419],[0.11427,0.11439,0.11301,0.11305],[0.11305,0.11388,0.1121,0.11215],[0.11215,0.11251,0.1106,0.11226],[0.11223,0.11251,0.11032,0.11243],[0.11243,0.11268,0.11065,0.11068],[0.11063,0.11072,0.10895,0.10941],[0.10942,0.10953,0.10872,0.10944],[0.10941,0.10953,0.10887,0.10933],[0.10936,0.10945,0.1063,0.10673],[0.10662,0.10742,0.10625,0.10694],[0.10697,0.10713,0.10617,0.1062],[0.10614,0.10853,0.10614,0.10848],[0.10853,0.11076,0.1084,0.10953],[0.10958,0.10966,0.10895,0.109],[0.10905,0.10916,0.10827,0.10832],[0.10832,0.10856,0.10748,0.10753],[0.10758,0.10769,0.10646,0.10692],[0.10691,0.10856,0.10688,0.10832],[0.10829,0.10837,0.10761,0.10766],[0.1077,0.10774,0.10614,0.10617],[0.10614,0.10737,0.106,0.10732],[0.10728,0.1093,0.10693,0.10836]];
const sirenBars=[[1.224,1.228,1.15,1.18],[1.18,1.183,1.11,1.127],[1.129,1.162,0.915,0.915],[0.915,1.162,0.801,1.145],[1.145,1.17,1.039,1.055],[1.055,1.129,1.03,1.073],[1.073,1.166,1.072,1.102],[1.102,1.112,1.072,1.075],[1.075,1.137,1.073,1.118],[1.118,1.129,1.085,1.106],[1.103,1.121,1.087,1.109],[1.106,1.15,1.104,1.144],[1.144,1.15,1.092,1.127],[1.129,1.155,1.127,1.151],[1.152,1.17,1.136,1.154],[1.154,1.158,1.137,1.14],[1.141,1.158,1.118,1.12],[1.12,1.155,1.118,1.151],[1.15,1.162,1.147,1.159],[1.158,1.16,1.139,1.145],[1.145,1.154,1.141,1.147],[1.145,1.147,1.127,1.131],[1.132,1.136,1.122,1.124],[1.124,1.133,1.118,1.131],[1.129,1.15,1.127,1.145],[1.145,1.15,1.143,1.147],[1.145,1.151,1.143,1.147],[1.144,1.147,1.107,1.111],[1.114,1.122,0.974,1.02],[1.022,1.026,0.916,0.929],[0.93,0.938,0.746,0.837],[0.835,0.849,0.799,0.801],[0.801,0.813,0.71,0.713],[0.713,0.753,0.693,0.733],[0.734,0.757,0.689,0.712],[0.712,0.732,0.645,0.645],[0.647,0.682,0.629,0.63],[0.631,0.633,0.611,0.619],[0.619,0.719,0.618,0.708],[0.708,0.789,0.654,0.656],[0.657,0.667,0.631,0.641],[0.641,0.706,0.626,0.651],[0.65,0.652,0.629,0.63],[0.629,0.638,0.623,0.635],[0.635,0.648,0.621,0.623],[0.623,0.667,0.605,0.638],[0.638,0.641,0.608,0.609],[0.61,0.611,0.536,0.561],[0.562,0.61,0.521,0.532],[0.532,0.61,0.517,0.603],[0.603,0.62,0.536,0.54],[0.54,0.595,0.528,0.537],[0.537,0.547,0.518,0.528],[0.528,0.547,0.528,0.53],[0.53,0.531,0.503,0.503],[0.502,0.556,0.501,0.554],[0.554,0.556,0.524,0.525],[0.525,0.556,0.52,0.548],[0.545,0.55,0.545,0.547],[0.545,0.581,0.545,0.571],[0.571,0.602,0.552,0.553],[0.553,0.561,0.537,0.538],[0.537,0.547,0.519,0.539],[0.537,0.548,0.537,0.539],[0.538,0.558,0.537,0.545],[0.545,0.55,0.544,0.547],[0.545,0.569,0.545,0.567],[0.567,0.569,0.534,0.535],[0.534,0.547,0.529,0.542],[0.54,0.556,0.539,0.549],[0.547,0.554,0.546,0.55],[0.546,0.562,0.546,0.554],[0.553,0.564,0.553,0.56],[0.56,0.562,0.553,0.554],[0.555,0.564,0.552,0.558],[0.556,0.577,0.556,0.576],[0.576,0.582,0.543,0.55],[0.549,0.573,0.548,0.562],[0.56,0.571,0.56,0.568],[0.568,0.574,0.547,0.548],[0.549,0.567,0.542,0.564],[0.564,0.575,0.549,0.55],[0.55,0.552,0.537,0.538],[0.539,0.541,0.507,0.515],[0.515,0.529,0.504,0.528],[0.525,0.531,0.524,0.528],[0.524,0.538,0.524,0.532],[0.532,0.539,0.524,0.524],[0.525,0.537,0.524,0.534],[0.528,0.539,0.528,0.535],[0.528,0.543,0.527,0.542],[0.541,0.545,0.539,0.542],[0.541,0.552,0.537,0.537],[0.537,0.556,0.536,0.55],[0.551,0.556,0.546,0.547],[0.548,0.56,0.543,0.556],[0.556,0.559,0.554,0.558],[0.557,0.561,0.555,0.558],[0.556,0.57,0.556,0.568],[0.567,0.571,0.566,0.57],[0.568,0.575,0.568,0.574],[0.574,0.579,0.571,0.575],[0.575,0.577,0.544,0.56],[0.56,0.562,0.552,0.557],[0.557,0.56,0.544,0.548],[0.548,0.559,0.537,0.557],[0.557,0.56,0.554,0.554],[0.555,0.558,0.551,0.552],[0.553,0.554,0.545,0.547],[0.547,0.551,0.546,0.549],[0.549,0.551,0.545,0.546],[0.546,0.551,0.544,0.549],[0.548,0.562,0.547,0.556],[0.557,0.559,0.545,0.546],[0.5478,0.5595,0.5455,0.556]];
const mlnTicks=[3.8,3.6,3.4,3.2,3.0,2.8,2.65,2.5,2.35,2.25,2.15];
const polyxTicks=[0.059,0.058,0.057,0.056,0.055,0.054,0.053,0.0522,0.0514,0.0507];
const phbTicks=[0.092,0.09,0.088,0.086,0.084,0.082,0.08,0.078,0.076,0.074,0.072,0.0704];
const aigensynTicks=[0.052,0.048,0.044,0.042,0.04,0.038,0.036,0.034,0.032,0.0305,0.0291,0.0278];
const kavaTicks=[0.0665,0.066,0.0655,0.065,0.0645,0.064,0.0635,0.0629,0.0623,0.0619,0.0615,0.0611,0.0607];
const bbTicks=[0.038,0.0375,0.037,0.0365,0.036,0.0355,0.035,0.0345,0.0339,0.0333,0.0328,0.0324,0.032];
const crossTicks=[0.126,0.124,0.122,0.12,0.118,0.116,0.114,0.112,0.1105,0.109,0.1075,0.106,0.1044];
const sirenTicks=[1.2,1.1,1.0,0.9,0.8,0.75,0.69,0.63,0.59,0.55,0.51,0.475];

const UP='#089981',DOWN='#f77c80',BG='#1b1b1b',LINE='#3c3c3c',TEXT='#a6a9b1',WICK='#9a9a9a';
const FONT='Roboto, sans-serif';
const panels=[
 {px:0,py:0,axis:748,x0:25.5,mark:'MLN',title:'MLN / TetherUS PERPETUAL CONTRACT · 15 · Binance',bars:mlnBars,ticks:mlnTicks,dec:3,min:2.0885,max:3.998,clock:'08:29',bolt:685,icon:'mln'},
 {px:800,py:0,axis:742,x0:19.5,mark:'POLYX',title:'POLYX / TetherUS PERPETUAL CONTRACT · 15 · Binance',bars:polyxBars,ticks:polyxTicks,dec:5,min:0.05004,max:0.06057,clock:'08:20',icon:'polyx'},
 {px:1600,py:0,axis:748,x0:25.5,mark:'PHB',title:'Phoenix / TetherUS PERPETUAL CONTRACT · 15 · Binance',bars:phbBars,ticks:phbTicks,dec:4,min:0.0689,max:0.09774,clock:'08:12',icon:'phb'},
 {px:0,py:500,axis:742,x0:19.5,mark:'AIGENSYN',title:'AIGENSYN / TetherUS PERPETUAL CONTRACT · 15 · Binance',bars:aigensynBars,ticks:aigensynTicks,dec:5,min:0.02758,max:0.0569,clock:'07:22',icon:'aigensyn'},
 {px:800,py:500,axis:748,x0:25.5,mark:'KAVA',title:'Kava / TetherUS PERPETUAL CONTRACT · 15 · Binance',bars:kavaBars,ticks:kavaTicks,dec:4,min:0.06058,max:0.06708,clock:'07:13',icon:'kava'},
 {px:1600,py:500,axis:742,x0:19.5,mark:'BB',title:'BB / TetherUS PERPETUAL CONTRACT · 15 · Binance',bars:bbBars,ticks:bbTicks,dec:5,min:0.03178,max:0.03858,clock:'07:05',icon:'bb'},
 {px:0,py:1000,axis:737,x0:13.5,mark:'CROSS',title:'CROSS / TetherUS PERPETUAL CONTRACT · 15 · Binance',bars:crossBars,ticks:crossTicks,dec:5,min:0.10417,max:0.12876,clock:'06:56',bolt:673,icon:'cross'},
 {px:800,py:1000,axis:748,x0:25.5,mark:'SIREN',title:'SIREN / TetherUS PERPETUAL CONTRACT · 15 · Binance',bars:sirenBars,ticks:sirenTicks,dec:4,min:0.4594,max:1.2835,clock:'06:48',bolt:685,icon:'siren'}
];
function roundRect(c,x,y,w,h,r){c.beginPath();c.roundRect(x,y,w,h,r);}
function drawIcon(c,k){
 c.save();c.translate(18,17);c.beginPath();c.arc(0,0,8.5,0,7);
 const fills={polyx:'#fff',phb:'#242424',aigensyn:'#222',kava:'#ff564f',bb:'#f2f2f2',cross:'#1ce0b5',siren:'#2a2a2a'};
 if(k==='mln'){const g=c.createLinearGradient(0,-8,0,8);g.addColorStop(0,'#6a4cf5');g.addColorStop(1,'#10d0c0');c.fillStyle=g;}else c.fillStyle=fills[k];
 c.fill();c.lineWidth=1.5;c.lineCap='round';
 if(k==='mln'){c.strokeStyle='#fff';[[-5,1],[-2.5,3],[0,4],[2.5,2.5],[5,1]].forEach(a=>{c.beginPath();c.moveTo(a[0],-a[1]);c.lineTo(a[0],a[1]);c.stroke();});}
 if(k==='polyx'){c.strokeStyle='#e8387c';c.beginPath();c.arc(0,0,5,0,7);c.stroke();c.beginPath();c.arc(.5,-1,2,0,7);c.moveTo(-1.5,-1);c.lineTo(-1.5,3);c.stroke();}
 if(k==='phb'){c.strokeStyle='#d8322a';c.beginPath();c.moveTo(-5,-3);c.lineTo(0,3);c.lineTo(5,-3);c.stroke();c.strokeStyle='#444';c.lineWidth=1;c.beginPath();c.arc(0,0,8.5,0,7);c.stroke();}
 if(k==='aigensyn'){c.fillStyle='#27b6b0';c.beginPath();c.arc(3,-3,4,0,7);c.fill();c.strokeStyle='#888';c.lineWidth=1;c.beginPath();c.arc(-2,3,3,0,7);c.stroke();}
 if(k==='kava'){c.strokeStyle='#fff';c.lineWidth=2;c.beginPath();c.moveTo(-2.5,-5);c.lineTo(-2.5,5);c.moveTo(3.5,-5);c.lineTo(-1.5,0);c.lineTo(3.5,5);c.stroke();}
 if(k==='bb'){c.strokeStyle='#111';c.lineWidth=2;c.beginPath();c.moveTo(-4,-4);c.lineTo(4,4);c.moveTo(4,-4);c.lineTo(-4,4);c.stroke();}
 if(k==='cross'){c.strokeStyle='#123';c.lineWidth=2;c.beginPath();c.arc(0,0,4,.8,5.5);c.stroke();}
 if(k==='siren'){c.fillStyle='#a5583e';c.beginPath();c.arc(0,0,4.5,0,7);c.fill();c.strokeStyle='#555';c.lineWidth=1;c.beginPath();c.arc(0,0,8.5,0,7);c.stroke();}
 c.restore();
}
function drawLogo(c){
 c.save();c.translate(11,445);
 const p=new Path2D('M0 0H14V18H7V7H0Z M23 0H32L24 18H15Z');
 const dot=new Path2D();dot.arc(18.5,3.6,3.6,0,7);
 c.lineJoin='round';c.lineWidth=3;c.strokeStyle='#000';c.stroke(p);c.stroke(dot);
 c.fillStyle='#f5f5f5';c.fill(p);c.fill(dot);c.restore();
}
function drawBolt(c,x){
 c.save();c.translate(x,463);c.strokeStyle='#9c27b0';c.lineWidth=1.8;c.beginPath();c.arc(0,0,9.6,0,7);c.stroke();
 c.fillStyle='#b04cc8';c.beginPath();c.moveTo(2,-6);c.lineTo(-3.5,1);c.lineTo(-.5,1);c.lineTo(-2,6);c.lineTo(3.5,-1);c.lineTo(.5,-1);c.closePath();c.fill();c.restore();
}
function drawHeader(c,p,o,h,l,cl){
 const col=cl>=o&&p.mark!=='KAVA'&&p.mark!=='BB'?UP:'#8a8d95';
 c.save();c.textBaseline='middle';c.textAlign='left';c.font='15.4px '+FONT;c.fillStyle=TEXT;
 c.fillText(p.title,31,17);
 let x=31+c.measureText(p.title).width+17;
 c.fillStyle='#0d3a33';c.beginPath();c.arc(x,17,8.5,0,7);c.fill();c.fillStyle=UP;c.beginPath();c.arc(x,16,3.4,0,7);c.fill();
 x+=17;c.font='13.7px '+FONT;
 [['O',o],['H',h],['L',l],['C',cl]].forEach(a=>{c.fillStyle=TEXT;c.fillText(a[0],x,17);x+=c.measureText(a[0]).width;const s=a[1].toFixed(p.dec);c.fillStyle=col;c.fillText(s,x,17);x+=c.measureText(s).width+6;});
 c.restore();
}
panels.forEach(p=>{
 const cv=document.createElement('canvas');cv.width=800;cv.height=500;cv.style.left=p.px+'px';cv.style.top=p.py+'px';cv.style.width='800px';cv.style.height='500px';document.body.appendChild(cv);
 const lead=p.bars.length-111;
 const bodies=p.bars.map((b,n)=>({x:n-lead,y:[b[0],b[3]]}));
 const wicks=p.bars.map((b,n)=>({x:n-lead,y:[b[2],b[1]]}));
 const colors=p.bars.map(b=>b[3]>=b[0]?UP:DOWN);
 const last=p.bars[p.bars.length-1];
 const overlay={id:'overlay',
  beforeDraw(ch){const c=ch.ctx;c.save();c.fillStyle=BG;c.fillRect(0,0,800,500);c.restore();},
  afterDatasetsDraw(ch){const c=ch.ctx,y=Math.round(ch.scales.y.getPixelForValue(last[3]))+.5,col=last[3]>=last[0]?UP:DOWN;
   c.save();
   c.fillStyle=BG;c.fillRect(p.axis,0,800-p.axis,500);
   c.strokeStyle=col;c.lineWidth=1;c.setLineDash([1,3]);c.beginPath();c.moveTo(0,y);c.lineTo(p.axis,y);c.stroke();c.setLineDash([]);
   c.font='78px "Liberation Sans"';c.textAlign='center';c.textBaseline='alphabetic';c.fillStyle='rgba(255,255,255,.39)';c.fillText(p.mark,400,293);
   c.strokeStyle=LINE;c.beginPath();c.moveTo(p.axis+.5,0);c.lineTo(p.axis+.5,500);c.moveTo(0,476.5);c.lineTo(800,476.5);c.stroke();
   c.restore();},
  afterDraw(ch){const c=ch.ctx,y=Math.round(ch.scales.y.getPixelForValue(last[3])),col=last[3]>=last[0]?UP:DOWN;
   c.save();
   drawIcon(c,p.icon);drawLogo(c);if(p.bolt)drawBolt(c,p.bolt);
   drawHeader(c,p,last[0],last[1],last[2],last[3]);
   c.font='12px '+FONT;c.textBaseline='middle';c.textAlign='left';
   const s=last[3].toFixed(p.dec),w=c.measureText(s).width;
   c.fillStyle=col;roundRect(c,p.axis+1,y-9,w+13,31,[0,2,2,0]);c.fill();
   c.fillStyle='#fff';c.fillText(s,p.axis+9,y+.5);c.fillText(p.clock,p.axis+9,y+14.5);
   c.fillStyle='#101010';c.strokeStyle='#4a4a4a';c.lineWidth=1;roundRect(c,p.axis+4.5,4.5,795-p.axis-4,25,4);c.fill();c.stroke();
   c.fillStyle='#dcdcdc';c.fillText('USDT',p.axis+8.5,17);
   c.restore();}
 };
 const noPad=s=>{s.paddingLeft=s.paddingRight=s.paddingTop=s.paddingBottom=0;};
 new Chart(cv,{type:'bar',
  data:{datasets:[
   {data:bodies,backgroundColor:colors,barThickness:5,minBarLength:1,inflateAmount:0,borderWidth:0,grouped:false},
   {data:wicks,backgroundColor:WICK,barThickness:1,inflateAmount:0,borderWidth:0,grouped:false}]},
  options:{responsive:false,animation:false,devicePixelRatio:1,
   layout:{autoPadding:false,padding:0},
   plugins:{legend:{display:false},tooltip:{enabled:false},title:{display:false}},
   scales:{
    x:{type:'linear',offset:false,min:-p.x0/6,max:(p.axis-p.x0)/6,grid:{display:false,drawTicks:false,offset:false},border:{display:false},
     afterBuildTicks:s=>{s.ticks=timeLabels.map((_,i)=>({value:i*12}));},
     afterFit:s=>{s.height=23;noPad(s);},
     ticks:{autoSkip:false,maxRotation:0,minRotation:0,padding:7,color:TEXT,font:{family:FONT,size:12},callback:v=>timeLabels[v/12]}},
    y:{type:'logarithmic',position:'right',min:p.min,max:p.max,grid:{display:false,drawTicks:false},border:{display:false},
     afterBuildTicks:s=>{s.ticks=p.ticks.map(v=>({value:v}));},
     afterFit:s=>{s.width=800-p.axis;noPad(s);},
     ticks:{z:1,autoSkip:false,padding:9,color:TEXT,font:{family:FONT,size:12},callback:v=>Number(v).toFixed(p.dec)}}
   }},
  plugins:[overlay]});
});
</script>
</body></html>
